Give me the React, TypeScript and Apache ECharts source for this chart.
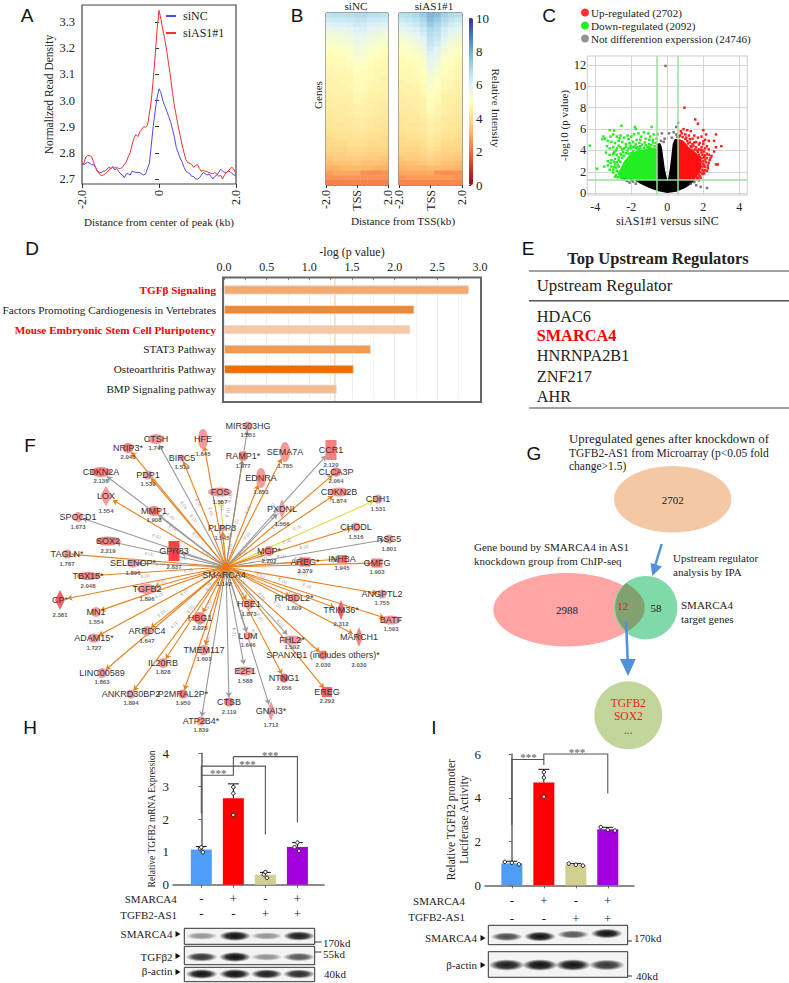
import React, { useEffect, useRef } from "react";
import * as echarts from "echarts";

const SERIF = "Liberation Serif";
const SANS = "Liberation Sans";
const INK = "#222";

// Panel A
const peakX = Array.from({ length: 81 }, (_, i) => (i - 40) / 20);
const siNC = [2.76,2.755,2.76,2.765,2.76,2.755,2.755,2.745,2.73,2.725,2.725,2.73,2.73,2.738,2.745,2.74,2.745,2.735,2.74,2.73,
2.72,2.715,2.705,2.72,2.72,2.715,2.73,2.728,2.725,2.725,2.725,2.72,2.715,2.72,2.74,2.76,2.83,2.90,2.96,3.01,
3.045,3.03,3.0,2.98,2.96,2.94,2.92,2.89,2.86,2.82,2.80,2.78,2.765,2.745,2.73,2.725,2.72,2.71,2.71,2.70,
2.70,2.705,2.715,2.725,2.72,2.715,2.72,2.71,2.70,2.71,2.715,2.725,2.738,2.73,2.725,2.725,2.73,2.728,2.72,2.715,2.715];
const siAS1 = [2.755,2.76,2.785,2.79,2.79,2.785,2.765,2.745,2.73,2.72,2.713,2.715,2.72,2.726,2.735,2.74,2.748,2.742,2.745,2.74,
2.74,2.745,2.755,2.765,2.785,2.80,2.83,2.855,2.87,2.862,2.88,2.89,2.90,2.898,2.905,2.95,3.0,3.08,3.17,3.27,
3.345,3.31,3.27,3.235,3.19,3.14,3.09,3.03,2.98,2.94,2.90,2.865,2.83,2.80,2.775,2.762,2.76,2.755,2.745,2.752,
2.755,2.74,2.73,2.733,2.73,2.728,2.725,2.722,2.72,2.725,2.72,2.71,2.715,2.70,2.715,2.725,2.73,2.74,2.745,2.735,2.72];
const peakTicks = [2.7, 2.8, 2.9, 3.0, 3.1, 3.2, 3.3];

// Panel B
const heatCols = ["c0","c1","c2","c3","c4","c5","c6","c7","c8"];
const heatLeft = [
[6.6,6.7,6.7,6.8,6.9,6.9,6.7,6.7,6.6],[6.3,6.4,6.4,6.5,6.6,6.6,6.4,6.4,6.3],[6.0,6.1,6.1,6.2,6.4,6.3,6.1,6.1,6.0],
[5.7,5.8,5.8,5.9,6.1,6.1,5.9,5.8,5.7],[5.5,5.5,5.6,5.7,5.9,5.9,5.7,5.6,5.5],[5.3,5.4,5.4,5.5,5.7,5.7,5.5,5.4,5.3],
[5.2,5.2,5.3,5.4,5.6,5.6,5.4,5.3,5.2],[5.0,5.1,5.1,5.2,5.5,5.4,5.2,5.1,5.0],[4.9,5.0,5.0,5.1,5.4,5.3,5.1,5.0,4.9],
[4.8,4.9,4.9,5.0,5.3,5.2,5.0,4.9,4.8],[4.8,4.8,4.9,4.9,5.2,5.1,4.9,4.8,4.8],[4.7,4.8,4.8,4.9,5.1,5.0,4.9,4.8,4.7],
[4.7,4.7,4.7,4.8,5.0,4.9,4.8,4.7,4.7],[4.6,4.7,4.7,4.7,4.9,4.9,4.8,4.7,4.6],[4.6,4.6,4.7,4.7,4.9,4.8,4.7,4.7,4.6],
[4.6,4.6,4.6,4.7,4.8,4.8,4.7,4.6,4.6],[4.5,4.6,4.6,4.6,4.8,4.7,4.6,4.6,4.5],[4.5,4.5,4.5,4.6,4.7,4.7,4.6,4.5,4.5],
[4.4,4.5,4.5,4.5,4.7,4.6,4.5,4.5,4.4],[4.4,4.4,4.4,4.5,4.6,4.6,4.5,4.4,4.4],[4.3,4.4,4.4,4.4,4.6,4.5,4.4,4.4,4.3],
[4.3,4.3,4.3,4.4,4.5,4.5,4.4,4.3,4.3],[4.2,4.3,4.3,4.3,4.4,4.4,4.3,4.3,4.2],[4.2,4.2,4.2,4.3,4.4,4.4,4.3,4.2,4.2],
[4.1,4.2,4.2,4.2,4.3,4.3,4.2,4.2,4.1],[4.0,4.1,4.1,4.1,4.2,4.2,4.1,4.1,4.0],[3.9,4.0,4.0,4.0,4.1,4.1,4.0,4.0,3.9],
[3.9,3.9,3.9,4.0,4.0,4.0,3.9,3.9,3.9],[3.8,3.8,3.8,3.9,3.9,3.9,3.8,3.8,3.8],[3.7,3.7,3.7,3.8,3.8,3.8,3.7,3.7,3.7],
[3.5,3.6,3.6,3.6,3.7,3.6,3.6,3.6,3.5],[3.3,3.4,3.4,3.4,3.5,3.4,3.4,3.4,3.3],[3.1,3.1,3.2,3.2,3.2,3.2,3.2,3.1,3.1],
[2.8,2.9,2.9,2.9,2.9,2.6,2.5,2.5,2.6],[2.6,2.6,2.6,2.6,2.6,2.6,2.6,2.6,2.6],[2.3,2.3,2.3,2.3,2.3,2.3,2.3,2.3,2.3]];
const heatRight = [
[6.7,6.8,7.0,7.3,7.8,7.6,7.2,6.9,6.8],[6.4,6.5,6.7,7.0,7.6,7.3,6.9,6.6,6.4],[6.1,6.2,6.4,6.7,7.3,7.0,6.6,6.3,6.1],
[5.8,5.9,6.1,6.4,7.0,6.8,6.3,6.0,5.8],[5.6,5.7,5.9,6.2,6.8,6.6,6.1,5.8,5.6],[5.4,5.5,5.6,6.0,6.6,6.4,5.9,5.6,5.4],
[5.2,5.3,5.4,5.8,6.5,6.2,5.7,5.4,5.3],[5.1,5.2,5.3,5.6,6.3,6.0,5.5,5.3,5.1],[5.0,5.1,5.2,5.4,6.1,5.9,5.4,5.2,5.0],
[4.9,5.0,5.0,5.3,6.0,5.7,5.2,5.1,4.9],[4.8,4.9,4.9,5.2,5.8,5.6,5.1,5.0,4.8],[4.8,4.8,4.9,5.1,5.6,5.4,5.0,4.9,4.8],
[4.7,4.8,4.8,5.0,5.5,5.3,5.0,4.8,4.7],[4.7,4.7,4.8,4.9,5.4,5.2,4.9,4.8,4.7],[4.6,4.7,4.7,4.9,5.3,5.1,4.8,4.7,4.6],
[4.6,4.6,4.7,4.8,5.2,5.0,4.8,4.7,4.6],[4.5,4.6,4.6,4.8,5.1,4.9,4.7,4.6,4.5],[4.5,4.5,4.6,4.7,5.0,4.9,4.6,4.5,4.5],
[4.4,4.5,4.5,4.6,4.9,4.8,4.6,4.5,4.4],[4.4,4.4,4.5,4.6,4.9,4.7,4.5,4.4,4.4],[4.3,4.4,4.4,4.5,4.8,4.6,4.5,4.4,4.3],
[4.3,4.3,4.3,4.5,4.7,4.6,4.4,4.3,4.3],[4.2,4.3,4.3,4.4,4.6,4.5,4.3,4.3,4.2],[4.2,4.2,4.2,4.3,4.5,4.4,4.3,4.2,4.2],
[4.1,4.2,4.2,4.3,4.5,4.4,4.2,4.2,4.1],[4.0,4.1,4.1,4.2,4.4,4.3,4.1,4.1,4.0],[3.9,4.0,4.0,4.1,4.3,4.2,4.0,4.0,3.9],
[3.9,3.9,3.9,4.0,4.2,4.1,3.9,3.9,3.9],[3.8,3.8,3.8,3.9,4.1,4.0,3.8,3.8,3.8],[3.7,3.7,3.7,3.8,3.9,3.8,3.7,3.7,3.7],
[3.5,3.6,3.6,3.7,3.8,3.7,3.6,3.6,3.5],[3.3,3.4,3.4,3.5,3.6,3.5,3.4,3.4,3.3],[3.1,3.2,3.2,3.2,3.3,3.3,3.2,3.2,3.1],
[2.9,2.9,2.9,2.9,3.0,2.6,2.5,2.5,2.6],[2.6,2.7,2.7,2.7,2.7,2.7,2.7,2.7,2.6],[2.4,2.4,2.4,2.4,2.4,2.4,2.4,2.4,2.4]];
const rdYlBu = ["#a50026","#d73027","#f46d43","#fdae61","#fee090","#ffffbf","#e0f3f8","#abd9e9","#74add1","#4575b4","#313695"];

// Panel C
const volcanoXTicks = [-4, -2, 0, 2, 4];
const volcanoYTicks = [0, 2, 4, 6, 8, 10, 12];
const volcanoCuts = { fcDown: -0.585, fcUp: 0.585, p: 1.3 };
const coreGreen = [[-0.585,1.3],[-2.6,1.3],[-2.75,1.8],[-2.55,2.5],[-2.4,3.0],[-2.1,3.6],[-1.7,4.0],[-1.3,4.1],[-0.9,4.3],[-0.585,4.2]];
const coreRed = [[0.62,1.3],[1.5,1.3],[1.8,2.0],[1.9,2.4],[1.9,3.2],[1.6,3.8],[1.2,4.3],[0.9,4.9],[0.62,5.1]];
const coreBlack = [[-1.9,1.3],[-1.5,0.9],[-1.0,0.5],[-0.5,0.2],[0,0.03],[0.5,0.15],[1.0,0.5],[1.3,0.85],[1.6,1.3],[0.62,1.3],[0.62,5.0],[0.42,5.1],[0.3,4.6],[0.15,2.4],[0.02,1.1],[-0.13,2.2],[-0.3,4.3],[-0.4,4.7],[-0.585,4.6],[-0.585,1.3]];
const upPoints = [[0.95,8.0],[1.55,6.9],[1.7,6.5],[0.9,6.0],[1.1,5.9],[1.3,5.8],[1.5,5.4],[2.0,5.9],[2.15,5.5],[2.7,5.5],[2.6,4.9],[3.0,4.4],[2.7,4.3],[2.6,3.9],[2.3,3.6],[2.45,3.5],[2.7,2.7],[2.8,2.7],[0.8,5.6],[0.7,5.4],[1.0,5.5],[1.2,5.4],[1.4,5.1],[1.7,5.2],[1.9,5.3],[2.1,5.0],[2.3,4.9],[1.6,4.8],[1.8,4.7],[2.0,4.6],[2.2,4.4],[1.4,4.6],[1.1,4.9],[1.3,4.4],[1.6,4.3],[1.9,4.3],[2.1,4.2],[2.3,4.1],[2.05,3.9],[2.2,3.7],[1.9,3.8],[2.05,3.4],[2.2,3.3],[2.35,3.1],[2.0,3.0],[2.15,2.9],[2.25,2.6],[2.05,2.6],[1.95,2.2],[2.1,2.15],[1.95,1.8],[1.8,1.6],[1.7,1.45],[2.2,2.1],[2.4,3.3],[1.75,3.6],[1.45,4.0],[0.75,5.8],[1.25,5.05],[1.0,5.1],[1.85,2.9],[1.95,3.3],
[0.65,5.3],[0.85,5.25],[1.05,5.2],[1.15,4.65],[1.25,4.75],[1.35,4.3],[1.45,4.45],[1.55,4.1],[1.65,4.0],[1.75,4.1],[1.85,4.05],[1.95,4.0],[1.7,3.85],[1.8,3.4],[1.95,3.6],[2.1,3.55],[2.1,3.15],[2.0,2.75],[2.1,2.45],[1.95,2.5],[2.0,2.05],[1.85,1.95],[1.75,1.75],[1.6,1.55],[1.65,1.35],[1.85,1.45],[2.05,1.85],[2.25,2.35],[2.3,2.85],[1.5,4.75],[1.75,4.55],[2.0,4.85]];
const downPoints = [[-4.3,4.45],[-3.9,2.3],[-3.55,5.3],[-3.45,5.1],[-3.6,5.05],[-3.2,5.9],[-2.95,5.85],[-2.55,6.3],[-1.8,6.2],[-1.75,6.0],[-0.87,6.2],[-3.0,5.5],[-2.8,5.3],[-2.6,5.4],[-2.4,5.2],[-2.2,5.4],[-2.0,5.3],[-1.85,5.5],[-1.6,5.6],[-1.3,5.7],[-1.05,5.6],[-0.75,5.5],[-3.3,4.9],[-3.1,4.8],[-2.9,4.7],[-2.7,4.9],[-2.5,4.8],[-2.3,4.6],[-2.1,4.7],[-1.9,4.8],[-1.7,5.0],[-1.5,5.0],[-1.2,5.1],[-1.0,5.0],[-0.8,5.0],[-0.65,4.7],[-3.0,4.3],[-2.8,4.2],[-2.6,4.3],[-2.4,4.2],[-2.2,4.0],[-2.0,4.2],[-1.8,4.4],[-1.5,4.4],[-1.2,4.5],[-0.9,4.5],[-3.4,3.8],[-3.2,3.6],[-3.0,3.7],[-2.8,3.6],[-2.6,3.7],[-2.4,3.5],[-3.3,3.0],[-3.1,3.1],[-2.9,3.2],[-2.7,3.1],[-2.5,3.3],[-3.5,2.5],[-3.3,2.6],[-3.1,2.5],[-2.9,2.7],[-2.7,2.5],[-3.0,2.2],[-2.8,2.1],[-2.7,1.9],[-2.6,1.6],[-2.45,1.5],[-2.15,3.7],[-1.9,3.9],[-1.6,4.1],
[-0.7,4.4],[-0.8,4.75],[-1.0,4.6],[-1.1,4.35],[-1.25,4.75],[-1.4,4.55],[-1.55,4.7],[-1.65,4.3],[-1.75,4.6],[-1.9,4.3],[-2.05,4.45],[-2.15,4.2],[-2.3,4.35],[-2.5,4.1],[-2.7,4.45],[-2.85,4.0],[-2.95,3.85],[-2.3,3.75],[-2.45,3.85],[-2.55,3.55],[-2.7,3.35],[-2.6,2.95],[-2.8,2.9],[-2.95,2.95],[-2.75,2.65],[-2.85,2.4],[-2.95,2.45],[-3.15,2.85],[-3.0,1.95],[-2.85,1.7],[-2.75,1.5],[-2.9,1.55],[-3.2,2.2],[-2.0,3.75],[-1.75,4.2],[-1.5,4.2],[-1.3,4.25],[-1.0,4.3],[-3.2,4.2],[-3.35,4.4],[-1.45,5.3],[-2.15,5.05],[-2.65,5.15],[-3.15,5.3],[-0.95,5.3],[-0.6,5.1]];
const otherPoints = [[-0.1,11.9],[0.6,6.6],[0.5,6.2],[0.35,5.7],[0.5,5.5],[0.55,5.3],[0.1,5.6],[-0.3,5.6],[-0.55,5.5],[-0.15,5.1],[-0.35,4.9],[-0.2,4.8],[0.25,5.2],[1.3,0.9],[1.6,0.75],[1.85,0.6],[2.2,0.5],[-1.9,1.1],[-2.4,1.3],[-2.1,1.0],[-2.0,1.25],[-2.25,1.15],[1.5,1.05],[1.75,1.2],[-1.75,0.9]];

// Panel D
const pathways = ["TGFβ Signaling","Factors Promoting Cardiogenesis in Vertebrates","Mouse Embryonic Stem Cell Pluripotency","STAT3 Pathway","Osteoarthritis Pathway","BMP Signaling pathway"];
const pathwayValues = [2.87, 2.23, 2.18, 1.72, 1.52, 1.32];
const pathwayColors = ["#F4A970","#EE8A33","#F6C9A4","#F09A52","#EC6F05","#F6BB8C"];
const pathwayHighlighted = ["TGFβ Signaling","Mouse Embryonic Stem Cell Pluripotency"];
const pathwayThreshold = 1.3;

// Panel E
const regulators = ["HDAC6","SMARCA4","HNRNPA2B1","ZNF217","AHR"];

// Panel F
const hub = "SMARCA4";
const netNames = ["CTSH","NRIP3*","HFE","BIRC5","CDKN2A","PDP1","LOX","FOS","MMP1","SPOCD1","PLPP3","SOX2","GPR83","TAGLN*","SELENOP*","TBX15*","TGFB2","CP*","MN1","ARRDC4","HBG1","ADAM15*","TMEM117","IL20RB","LINC00589","ANKRD30BP2","P2MRAL2P*","CTSB","ATP2B4*","MIR503HG","RAMP1*","SEMA7A","CCR1","EDNRA","CLCA3P","CDKN2B","CDH1","PXDNL","CHODL","RSG5","MGP*","AREG*","INHBA","GMFG","ANGPTL2","RHBDL2*","TRIM36*","BATF","HBE1","MARCH1","LUM","FHL2*","SPANXB1 (includes others)*","E2F1","NTNG1","EREG","GNAI3*"];
const netScores = ["1.747","2.048","1.845","1.519","2.136","1.539","1.554","1.557","1.908","1.673","1.545","2.219","2.837","1.787","1.896","2.048","1.896","2.381","1.554","1.647","2.025","1.727","1.603","1.828","1.863","1.894","1.950","2.119","1.839","1.551","1.977","1.785","2.120","1.853","2.064","1.874","1.531","1.566","1.516","1.801","2.202","2.379","1.945","1.903","1.755","1.609","2.312","1.593","1.873","2.030","1.646","1.592","2.030","1.588","2.656","2.292","1.712"];
// link colour class: o orange, g grey, y yellow, b brown
const netLinkKinds = "g o o o g o o y g g o g g o b o o o o o o o o o o o o g g g b o g o o o y g o g o g o o o o o o o o g g o g o o g".split(" ");
const netEvidence = "E (1)";
// x, y, shape, w, h, score y
const netLayout: any[] = [
[156,439,"c",16,10,448],[128,448,"c",11,10,457],[203,439,"c",10,20,454],[182,458,"c",7,7,467],[101,472,"c",20,10,481],[148,475,"c",9,9,484],[106,496,"d",12,20,511],[220,492,"c",24,9,502],[154,511,"c",12,10,520],[78,517,"c",10,10,527],[222,528,"c",8,7,538],[108,541,"c",24,9,551],[174,551,"r",11,20,567],[67,554,"c",9,9,564],[133,563,"c",10,9,573],[88,576,"c",22,8,586],[147,589,"c",20,10,599],[60,600,"d",10,20,615],[96,612,"c",10,10,622],[147,631,"c",10,10,641],[200,618,"c",13,12,628],[94,638,"c",12,9,648],[204,650,"c",11,10,659],[163,663,"c",10,10,672],[102,673,"c",10,10,682],[131,694,"c",9,9,703],[183,694,"c",9,9,703],[229,702,"c",10,9,712],[201,721,"c",9,9,730],
[248,426,"c",9,9,435],[243,456,"r",7,9,466],[285,452,"c",10,20,466],[331,450,"r",11,20,465],[261,478,"c",10,20,492],[336,472,"c",10,9,481],[339,492,"c",20,9,501],[378,499,"c",9,9,509],[282,509,"d",8,20,524],[356,527,"c",9,9,537],[389,539,"c",9,9,549],[269,551,"c",10,10,561],[305,562,"r",11,9,571],[342,559,"r",10,8,568],[377,563,"r",11,9,572],
[382,594,"c",9,9,603],[294,598,"c",10,9,608],[341,610,"d",8,20,624],[391,620,"c",20,9,629],[249,604,"c",10,10,614],[359,637,"d",8,20,665],[248,636,"c",8,8,645],[292,640,"c",20,9,647],[323,655,"c",9,9,665],[245,671,"c",18,9,681],[284,678,"c",9,9,688],[327,692,"r",10,10,701],[271,711,"d",8,20,725]];

// Panel G
const vennCounts = { microarray: "2702", chip: "2988", shared: "12", target: "58" };
const vennGenes = ["TGFB2", "SOX2", "..."];

// Panels H, I
const smarcaRow = ["-", "+", "-", "+"];
const tgfbRow = ["-", "-", "+", "+"];
const barColors = ["#4F9DF5", "#FF0000", "#D2D090", "#A400DC"];
const mrnaMeans = [1.07, 2.63, 0.3, 1.15];
const mrnaTops = [1.16, 3.07, 0.375, 1.28];
const mrnaPoints = [[-0.04,1.10],[0,1.137],[0.05,0.985],[1,2.97],[1,2.78],[1,2.12],[1.95,0.31],[2,0.386],[2.05,0.21],[3,1.28],[2.91,1.14],[3.05,1.03]];
const mrnaBrackets = [[[0,2.17],[0,3.61],[2,3.61],[2,1.53]],[[0,3.33],[1,3.33],[1,3.9]],[[1,3.9],[3,3.9],[3,1.89]]];
const mrnaStars = [[0.53,3.39],[1.44,3.68],[2.15,3.96]];
const lucMeans = [1.0, 4.7, 0.94, 2.56];
const lucTops = [1.1, 5.3, 0.99, 2.65];
const lucPoints = [[-0.22,1.07],[0,1.03],[0.22,0.96],[1,5.17],[1,4.92],[1,4.05],[1.78,0.99],[2,0.94],[2.22,0.9],[2.78,2.66],[3,2.54],[3.22,2.5]];
const lucBrackets = [[[0,2.75],[0,5.75],[1,5.75],[1,5.5]],[[1,5.75],[1,6],[3,6],[3,4.2]]];
const lucStars = [[0.52,5.87],[2.04,6.1]];
const blotH = { smarca4: [0.4,1,0.4,0.9], tgfb2: [0.8,1,0.4,0.65], actin: [0.95,1,0.9,0.85] };
const blotI = { smarca4: [0.7,1,0.65,0.95], actin: [0.9,0.95,0.95,0.8] };

const txt = (text: string, x: number, y: number, o: any = {}) => ({
  type: "text", x, y, rotation: o.rotation || 0, z: o.z || 20, scaleX: o.scaleX || 1,
  style: {
    text, fill: o.fill || INK, fontFamily: o.family || SERIF, fontSize: o.size || 11, fontWeight: o.weight || "normal",
    align: o.align || "left", textAlign: o.align || "left", verticalAlign: "middle", textVerticalAlign: "middle",
  },
});
const line = (x1: number, y1: number, x2: number, y2: number, color = "#333", w = 1) => ({
  type: "line", z: 20, shape: { x1, y1, x2, y2 }, style: { stroke: color, lineWidth: w },
});
const tri = (x: number, y: number) => ({ type: "polygon", z: 20, shape: { points: [[x - 2.5, y - 3], [x + 2.5, y], [x - 2.5, y + 3]] }, style: { fill: "#111" } });

function band(cx: number, cy: number, rx: number, ry: number, k: number) {
  const c = (a: number) => `rgba(15,15,15,${a})`;
  return {
    type: "ellipse", z: 19, shape: { cx, cy, rx, ry },
    style: { fill: { type: "radial", x: 0.5, y: 0.5, r: 0.5, colorStops: [{ offset: 0, color: c(k) }, { offset: 0.55, color: c(k * 0.85) }, { offset: 1, color: c(0) }] } },
  };
}
function blot(x: number, y: number, w: number, h: number, xs: number[], cy: number[] | number, vals: number[], rx: number, ry: number) {
  const out: any[] = [{ type: "rect", z: 18, shape: { x, y, width: w, height: h }, style: { fill: "#f3f3f3", stroke: "#333", lineWidth: 1 } }];
  vals.forEach((v, i) => out.push(band(xs[i], Array.isArray(cy) ? cy[i] : cy, rx, ry * (0.55 + 0.45 * v), Math.min(1, v * 1.05))));
  return out;
}

const lensPath = "M626 583.3 A31.7 31.7 0 0 0 626.7 631.7 A74 36.7 0 0 0 626 583.3 Z";

function buildGraphic() {
  const els: any[] = [];
  const labels: [string, number, number][] = [["A",27,15],["B",297,15],["C",549,15],["D",32,248],["E",528,248],["F",30,445],["G",534,453],["H",30,727],["I",434,727]];
  labels.forEach(([s, x, y]) => els.push(txt(s, x, y, { family: SANS, size: 19, align: "center", fill: "#111" })));

  // B
  els.push(txt("siNC", 356, 6, { align: "center", size: 11.2 }), txt("siAS1#1", 434, 6, { align: "center", size: 11.2 }));
  els.push(txt("Genes", 318, 95, { align: "center", rotation: Math.PI / 2, size: 11.2 }));
  els.push(txt("Relative Intensity", 496, 108, { align: "center", rotation: -Math.PI / 2, size: 11.2 }));
  els.push(txt("Distance from TSS(kb)", 403, 221, { align: "center", size: 11.2 }));

  // D frame
  els.push({ type: "rect", z: 15, shape: { x: 223, y: 277.5, width: 258, height: 124.5 }, style: { fill: "none", stroke: "#666", lineWidth: 2 } });

  // E
  els.push(txt("Top Upstream Regulators", 658, 258, { align: "center", weight: "bold", size: 16.5 }));
  els.push(line(529, 271, 789, 271, "#444", 1.2), line(529, 300.7, 789, 300.7, "#555", 1.4), line(529, 408, 789, 408, "#444", 1.2));
  els.push(txt("Upstream Regulator", 536.7, 285.7, { size: 16.8 }));
  const rowY = [316, 335.5, 355.5, 376, 396];
  regulators.forEach((r, i) => els.push(txt(r, 536.7, rowY[i], r === "SMARCA4" ? { size: 16.3, weight: "bold", fill: "#FF0000" } : { size: 16.3 })));

  // G
  els.push(txt("Upregulated genes after knockdown of", 569, 439, { size: 11.5, scaleX: 1.12 }));
  els.push(txt("TGFB2-AS1 from Microarray (p<0.05 fold", 569, 453, { size: 11.5 }));
  els.push(txt("change>1.5)", 569, 466, { size: 11.5 }));
  els.push({ type: "ellipse", z: 10, shape: { cx: 672.7, cy: 499.3, rx: 58.7, ry: 33.3 }, style: { fill: "#F5C8A5" } });
  els.push(txt(vennCounts.microarray, 672.7, 500, { align: "center" }));
  els.push(txt("Gene bound by SMARCA4 in AS1", 474, 547), txt("knockdown group from ChIP-seq", 474, 561));
  els.push(txt("Upstream regulator", 673, 558), txt("analysis by IPA", 673, 572));
  els.push({ type: "ellipse", z: 10, shape: { cx: 567.3, cy: 609.7, rx: 74, ry: 36.7 }, style: { fill: "#FFA5A5" } });
  els.push({ type: "circle", z: 11, shape: { cx: 645.7, cy: 607.7, r: 31.7 }, style: { fill: "#7FD9A8" } });
  els.push({ type: "vennLens", z: 12, style: { fill: "#82A070" } });
  els.push(txt(vennCounts.chip, 567, 610, { align: "center" }), txt(vennCounts.shared, 622.7, 606, { align: "center", fill: "#E02020" }), txt(vennCounts.target, 656, 608, { align: "center" }));
  els.push(txt("SMARCA4", 681, 605), txt("target genes", 681, 619));
  els.push(line(661.7, 544, 655, 566, "#5090DC", 2.5));
  els.push({ type: "polygon", z: 20, shape: { points: [[650.5, 563], [662, 566.5], [652.3, 576]] }, style: { fill: "#5090DC" } });
  els.push(line(626, 621, 627.7, 660, "#5090DC", 2.5));
  els.push({ type: "polygon", z: 20, shape: { points: [[620, 659], [635.7, 659], [628, 676]] }, style: { fill: "#5090DC" } });
  els.push({ type: "circle", z: 10, shape: { cx: 628.3, cy: 715.3, r: 34 }, style: { fill: "#C2D69B" } });
  vennGenes.forEach((g, i) => els.push(txt(g, 628.3, [702.7, 716, 730][i], { align: "center", size: 11.5, fill: "#F02020" })));

  // H labels + blots
  els.push(txt("SMARCA4", 176.7, 899, { align: "right" }), txt("TGFB2-AS1", 177, 915, { align: "right" }));
  const hx = [201.7, 235, 266.7, 299];
  els.push(...blot(184.3, 928.3, 130.4, 16, hx, 936, blotH.smarca4, 16, 5));
  els.push(...blot(184.3, 946.3, 130.4, 18.4, hx, 957, blotH.tgfb2, 16, 5));
  els.push(...blot(184.3, 967.3, 130.4, 14.4, hx, 974, blotH.actin, 16, 5));
  els.push(txt("SMARCA4", 172.5, 934, { align: "right" }), tri(178, 934));
  els.push(txt("TGFβ2", 172.5, 957, { align: "right" }), tri(178, 956));
  els.push(txt("β-actin", 172.5, 971, { align: "right" }), tri(178, 972));
  els.push(line(315, 942, 321.5, 942, "#333", 1), line(315, 952, 321.5, 952, "#333", 1));
  els.push(txt("170kd", 323, 943), txt("55kd", 323, 954), txt("40kd", 324, 974));

  // I labels + blots
  els.push(txt("SMARCA4", 465, 901, { align: "right" }), txt("TGFB2-AS1", 465, 917, { align: "right" }));
  const ix = [506.7, 540, 573, 606.7];
  els.push(...blot(488.3, 925.3, 139.4, 19.4, ix, [936.7, 936.5, 934.5, 933.5], blotI.smarca4, 16, 5));
  els.push(...blot(488.3, 951.7, 139.4, 25.6, ix, 965, blotI.actin, 18, 6));
  els.push(txt("SMARCA4", 477, 938, { align: "right" }), tri(483, 938));
  els.push(txt("β-actin", 477, 965, { align: "right" }), tri(483, 965));
  els.push(line(627.7, 941, 632, 941, "#333", 1), line(627.7, 976, 632, 976, "#333", 1));
  els.push(txt("170kd", 634, 938), txt("40kd", 636, 976));
  return els;
}

function barPanel(gi: number, means: number[], tops: number[], points: number[][], brackets: number[][][], stars: number[][], name: string) {
  const xa = gi, ya = gi;
  return [
    { type: "bar", xAxisIndex: xa, yAxisIndex: ya, barWidth: 21, silent: true, name,
      data: means.map((v, i) => ({ value: [i, v], itemStyle: { color: barColors[i] } })) },
    { type: "custom", xAxisIndex: xa, yAxisIndex: ya, silent: true, z: 3,
      data: tops.map((t, i) => [i, means[i], t]),
      renderItem: (_: any, api: any) => {
        const a = api.coord([api.value(0), api.value(1)]);
        const b = api.coord([api.value(0), api.value(2)]);
        return { type: "group", children: [
          { type: "line", shape: { x1: a[0], y1: a[1], x2: b[0], y2: b[1] }, style: { stroke: "#111", lineWidth: 1 } },
          { type: "line", shape: { x1: b[0] - 5.5, y1: b[1], x2: b[0] + 5.5, y2: b[1] }, style: { stroke: "#111", lineWidth: 1 } },
        ] };
      } },
    { type: "scatter", xAxisIndex: xa, yAxisIndex: ya, silent: true, z: 4, symbolSize: 3.5, clip: false,
      itemStyle: { color: "#fff", borderColor: "#111", borderWidth: 1, opacity: 1 }, data: points },
    { type: "custom", xAxisIndex: xa, yAxisIndex: ya, silent: true, z: 2, clip: false,
      data: brackets.map((b) => b[0]),
      renderItem: (p: any, api: any) => ({ type: "polyline",
        shape: { points: brackets[p.dataIndex].map((c) => api.coord(c)) },
        style: { stroke: "#555", lineWidth: 1.1, fill: "none" } }) },
    { type: "scatter", xAxisIndex: xa, yAxisIndex: ya, silent: true, z: 5, symbolSize: 0, clip: false, data: stars,
      label: { show: true, position: "inside", formatter: "***", fontFamily: SERIF, fontSize: 11, fontWeight: "bold", color: "#555" } },
  ];
}

function option() {
  const axisText = { fontFamily: SERIF, color: INK };
  const hidden = { show: false };
  const poly = (pts: number[][], fill: string) => (p: any, api: any) =>
    p.dataIndex === 0 ? { type: "polygon", shape: { points: pts.map((c) => api.coord(c)) }, style: { fill } } : null;

  const barX = (gridIndex: number, lo: number, hi: number, lh: number) => ({
    type: "value", gridIndex, min: lo, max: hi, splitLine: hidden,
    axisLine: { show: true, lineStyle: { color: "#666", width: 1.5 } },
    axisTick: { show: true, length: 3, lineStyle: { color: "#666" }, customValues: [0, 1, 2, 3] },
    axisLabel: { customValues: [0, 1, 2, 3], ...axisText, fontSize: 13, lineHeight: lh, margin: 6, formatter: (v: number) => `${smarcaRow[v]}\n${tgfbRow[v]}` },
  });
  const barY = (gridIndex: number, max: number, interval: number, name: string, gap: number, size: number) => ({
    type: "value", gridIndex, min: 0, max, interval, name, nameLocation: "middle", nameRotate: 90, nameGap: gap,
    nameTextStyle: { fontFamily: SERIF, fontSize: size, color: INK, lineHeight: 13 }, splitLine: hidden,
    axisLine: { show: true, lineStyle: { color: "#666", width: 1.5 } },
    axisTick: { show: true, length: 3, lineStyle: { color: "#666" } },
    axisLabel: { ...axisText, fontSize: 13, margin: 4 },
  });
  const heatXCat = (gridIndex: number) => ({ type: "category", gridIndex, data: heatCols, show: false });
  const heatXVal = (gridIndex: number) => ({
    type: "value", gridIndex, min: -2, max: 2, interval: 2, position: "bottom", splitLine: hidden,
    axisLine: hidden, axisTick: { show: true, length: 3, lineStyle: { color: "#333" } },
    axisLabel: { rotate: 90, ...axisText, fontSize: 12, margin: 5, formatter: (v: number) => (v === 0 ? "TSS" : v.toFixed(1)) },
  });
  const heatY = (gridIndex: number) => ({ type: "category", gridIndex, inverse: true, data: heatLeft.map((_, i) => String(i)), show: false });
  const heatData = (t: number[][]) => t.flatMap((row, r) => row.map((v, c) => [c, r, v]));

  const xAxis: any[] = [
    /*0 A*/ { type: "value", gridIndex: 0, min: -2, max: 2, interval: 2, splitLine: hidden, name: "Distance from center of peak (kb)", nameLocation: "middle", nameGap: 32,
      nameTextStyle: { fontFamily: SERIF, fontSize: 11.1, color: INK },
      axisLine: { show: false }, axisTick: { show: true, length: 4, lineStyle: { color: "#333" } },
      axisLabel: { rotate: 90, ...axisText, fontSize: 12, margin: 6, formatter: (v: number) => v === 0 ? "0" : v.toFixed(1) } },
    /*1*/ heatXCat(1), /*2*/ heatXVal(1), /*3*/ heatXCat(2), /*4*/ heatXVal(2),
    /*5 bar*/ { type: "value", gridIndex: 3, show: false, min: 0, max: 1 },
    /*6 C*/ { type: "value", gridIndex: 4, min: -4.44, max: 4.44, splitLine: hidden, name: "siAS1#1 versus siNC", nameLocation: "middle", nameGap: 20,
      nameTextStyle: { fontFamily: SERIF, fontSize: 12, color: INK },
      axisLine: { show: false }, axisTick: { show: false, customValues: volcanoXTicks },
      axisLabel: { customValues: volcanoXTicks, ...axisText, fontSize: 12, margin: 6 } },
    /*7 D*/ { type: "value", gridIndex: 5, position: "top", min: 0, max: 3, interval: 0.5, name: "-log (p value)", nameLocation: "middle", nameGap: 22,
      nameTextStyle: { fontFamily: SERIF, fontSize: 12, color: INK },
      axisLine: { show: false }, axisTick: { show: true, length: 3, lineStyle: { color: "#888" } }, minorTick: { show: true, splitNumber: 2, length: 3, lineStyle: { color: "#888" } },
      splitLine: { show: true, lineStyle: { color: "#eee" } }, minorSplitLine: { show: true, lineStyle: { color: "#f3f3f3" } },
      axisLabel: { ...axisText, fontSize: 12, margin: 7, formatter: (v: number) => v.toFixed(1) } },
    /*8 F*/ { type: "value", gridIndex: 6, min: 0, max: 789, show: false },
    /*9 H*/ barX(7, -0.884, 3.83, 15),
    /*10 I*/ barX(8, -0.84, 3.82, 18),
  ];
  const yAxis: any[] = [
    /*0 A*/ { type: "value", gridIndex: 0, min: 2.681, max: 3.365, splitLine: hidden, name: "Normalized Read Density", nameLocation: "middle", nameRotate: 90, nameGap: 26,
      nameTextStyle: { fontFamily: SERIF, fontSize: 11.5, color: INK },
      axisLine: { show: false }, axisTick: { show: true, length: 4, customValues: peakTicks, lineStyle: { color: "#333" } },
      axisLabel: { customValues: peakTicks, ...axisText, fontSize: 12.5, margin: 7, formatter: (v: number) => v.toFixed(1) } },
    /*1*/ heatY(1), /*2*/ heatY(1), /*3*/ heatY(2), /*4*/ heatY(2),
    /*5 bar*/ { type: "value", gridIndex: 3, position: "right", min: 0, max: 10, interval: 2, splitLine: hidden,
      axisLine: hidden, axisTick: { show: true, length: 2, inside: false, lineStyle: { color: "#333" } }, axisLabel: { ...axisText, fontSize: 13, margin: 3 } },
    /*6 C*/ { type: "value", gridIndex: 4, min: -0.16, max: 12.83, splitLine: hidden, name: "-log10 (p value)", nameLocation: "middle", nameRotate: 90, nameGap: 17,
      nameTextStyle: { fontFamily: SERIF, fontSize: 11, color: INK },
      axisLine: { show: false }, axisTick: { show: true, length: 5, customValues: volcanoYTicks, lineStyle: { color: "#888" } },
      axisLabel: { customValues: volcanoYTicks, ...axisText, fontSize: 12.5, margin: 1 } },
    /*7 D*/ { type: "category", gridIndex: 5, inverse: true, data: pathways, axisLine: hidden, axisTick: hidden,
      axisLabel: { margin: 8, interval: 0, formatter: (v: string) => pathwayHighlighted.includes(v) ? `{r|${v}}` : `{n|${v}}`,
        rich: { r: { fontFamily: SERIF, fontSize: 11.2, fontWeight: "bold", color: "#FF0000" }, n: { fontFamily: SERIF, fontSize: 11.2, color: INK } } } },
    /*8 F*/ { type: "value", gridIndex: 6, min: 0, max: 983, inverse: true, show: false },
    /*9 H*/ barY(7, 4, 1, "Relative TGFB2 mRNA Expression", 10, 9.5),
    /*10 I*/ barY(8, 6, 2, "Relative TGFB2 promoter\nLuciferase Activity", 14, 11.5),
  ];
  const noBounds = { outerBoundsMode: "none" };
  const grid = [
    { left: 82, top: 5, width: 154, height: 179, show: true, borderColor: "#444", borderWidth: 1.2, backgroundColor: "transparent" },
    { left: 326, top: 13, width: 62, height: 172, show: true, borderColor: "#222", borderWidth: 1 },
    { left: 399, top: 13, width: 63, height: 172, show: true, borderColor: "#222", borderWidth: 1 },
    { left: 469, top: 18, width: 4, height: 167 },
    { left: 587.3, top: 56, width: 160, height: 139, show: true, borderColor: "#ccc", borderWidth: 1 },
    { left: 224, top: 280, width: 256, height: 119 },
    { left: 0, top: 0, width: 789, height: 983 },
    { left: 173, top: 753.3, width: 151, height: 131.4 },
    { left: 485, top: 754, width: 149, height: 131.3 },
  ].map((g) => ({ ...g, ...noBounds }));

  const netNodes: any[] = netNames.map((name, i) => {
    const [x, y, s, w, h] = netLayout[i];
    const score = parseFloat(netScores[i]);
    return {
      name, value: [x, y], symbol: s === "c" ? "circle" : s === "r" ? "rect" : "diamond", symbolSize: [w, h],
      itemStyle: { color: score > 2.7 ? "#FF4048" : score > 2.25 ? "#F46464" : score > 1.9 ? "#F58080" : "#F59A9A" },
    };
  });
  netNodes.push({ name: hub, value: [226, 567], symbol: "circle", symbolSize: 8, itemStyle: { color: "#E8791A" }, label: { offset: [-2, 8] } });
  const kindColor: any = { o: "#E8801E", g: "#999", y: "#E6D84A", b: "#A88A66" };
  const netLinks = netNames.map((name, i) => ({ source: hub, target: name, tag: netEvidence, lineStyle: { color: kindColor[netLinkKinds[i]] } }));

  const series: any[] = [
    { type: "line", name: "siNC", xAxisIndex: 0, yAxisIndex: 0, showSymbol: false, silent: true, data: peakX.map((x, i) => [x, siNC[i]]), lineStyle: { color: "#4B4BF0", width: 1 }, itemStyle: { color: "#4B4BF0" } },
    { type: "line", name: "siAS1#1", xAxisIndex: 0, yAxisIndex: 0, showSymbol: false, silent: true, data: peakX.map((x, i) => [x, siAS1[i]]), lineStyle: { color: "#F0322F", width: 1 }, itemStyle: { color: "#F0322F" } },
    { type: "heatmap", xAxisIndex: 1, yAxisIndex: 1, silent: true, data: heatData(heatLeft), itemStyle: { borderWidth: 0 } },
    { type: "heatmap", xAxisIndex: 3, yAxisIndex: 3, silent: true, data: heatData(heatRight), itemStyle: { borderWidth: 0 } },
    // C
    { type: "scatter", name: "Not differention experssion (24746)", xAxisIndex: 6, yAxisIndex: 6, symbol: "rect", symbolSize: 2.5, silent: true, z: 3, data: otherPoints, itemStyle: { color: "#555" },
      markLine: { silent: true, symbol: "none", z: 1, label: hidden, lineStyle: { color: "#d5d5d5", width: 1, type: "solid" },
        data: [...volcanoXTicks.map((v) => ({ xAxis: v })), ...volcanoYTicks.map((v) => ({ yAxis: v }))] } },
    { type: "custom", xAxisIndex: 6, yAxisIndex: 6, silent: true, z: 3, data: coreBlack, renderItem: poly(coreBlack, "#000") },
    { type: "custom", xAxisIndex: 6, yAxisIndex: 6, silent: true, z: 3, data: coreGreen, renderItem: poly(coreGreen, "#22EE22") },
    { type: "custom", xAxisIndex: 6, yAxisIndex: 6, silent: true, z: 3, data: coreRed, renderItem: poly(coreRed, "#FF1010") },
    { type: "scatter", name: "Up-regulated (2702)", xAxisIndex: 6, yAxisIndex: 6, symbol: "rect", symbolSize: 2.5, silent: true, z: 4, data: upPoints, itemStyle: { color: "#FF2020", opacity: 1 } },
    { type: "scatter", name: "Down-regulated (2092)", xAxisIndex: 6, yAxisIndex: 6, symbol: "rect", symbolSize: 2.5, silent: true, z: 4, data: downPoints, itemStyle: { color: "#22EE22", opacity: 1 },
      markLine: { silent: true, symbol: "none", z: 6, label: hidden, lineStyle: { color: "#9EDC9E", width: 1.5, type: "solid" },
        data: [{ xAxis: volcanoCuts.fcDown }, { xAxis: volcanoCuts.fcUp }, { yAxis: volcanoCuts.p }] } },
    // D
    { type: "bar", xAxisIndex: 7, yAxisIndex: 7, barWidth: 9, silent: true,
      data: pathwayValues.map((v, i) => ({ value: v, itemStyle: { color: pathwayColors[i], borderColor: "#ddd", borderWidth: 0.8 } })) },
    { type: "custom", xAxisIndex: 7, yAxisIndex: 7, silent: true, z: 1, data: [[pathwayThreshold, pathways[0]]],
      renderItem: (_: any, api: any) => {
        const x = api.coord([api.value(0), 0])[0];
        return { type: "line", shape: { x1: x, y1: 278, x2: x, y2: 401 }, style: { stroke: "#F6C48E", lineWidth: 1 } };
      } },
    // F
    { type: "graph", coordinateSystem: "cartesian2d", xAxisIndex: 8, yAxisIndex: 8, layout: "none", silent: true, z: 3,
      data: netNodes, links: netLinks, edgeSymbol: ["none", "arrow"], edgeSymbolSize: [0, 5],
      lineStyle: { width: 1.1, opacity: 1, curveness: 0 },
      label: { show: true, position: "inside", fontFamily: SANS, fontSize: 9, color: "#333" },
      edgeLabel: { show: true, fontFamily: SANS, fontSize: 4, color: "#888", formatter: (p: any) => p.data?.tag ?? "" } },
    { type: "scatter", xAxisIndex: 8, yAxisIndex: 8, symbolSize: 0, silent: true, z: 4,
      data: [...netNames.map((_, i) => ({ value: [netLayout[i][0], netLayout[i][5]], score: netScores[i] })), { value: [224, 584], score: "1.142" }],
      label: { show: true, position: "inside", fontFamily: SANS, fontSize: 6, fontWeight: "bold", color: "#333", formatter: (p: any) => p.data.score } },
    // H, I
    ...barPanel(9, mrnaMeans, mrnaTops, mrnaPoints, mrnaBrackets, mrnaStars, "mRNA"),
    ...barPanel(10, lucMeans, lucTops, lucPoints, lucBrackets, lucStars, "Luciferase"),
  ];

  return {
    animation: false,
    backgroundColor: "#fff",
    grid, xAxis, yAxis, series,
    legend: [
      { left: 166, top: 10, orient: "vertical", itemWidth: 10, itemHeight: 2, itemGap: 5, selectedMode: false, padding: 0,
        icon: "rect", data: ["siNC", "siAS1#1"], textStyle: { fontFamily: SERIF, fontSize: 12, color: INK, padding: [0, 0, 0, 2] } },
      { left: 581, top: 7, orient: "vertical", itemWidth: 8, itemHeight: 8, itemGap: 2, selectedMode: false, padding: 0, icon: "circle",
        data: [{ name: "Up-regulated (2702)", itemStyle: { color: "#FF3030" } }, { name: "Down-regulated (2092)", itemStyle: { color: "#22EE22" } }, { name: "Not differention experssion (24746)", itemStyle: { color: "#777" } }],
        textStyle: { fontFamily: SERIF, fontSize: 11.1, color: INK, padding: [0, 0, 0, -3] } },
    ],
    visualMap: { type: "continuous", seriesIndex: [2, 3], dimension: 2, min: 0, max: 10, calculable: false, realtime: false, show: true, left: 469, top: 18, padding: 0, itemWidth: 4, itemHeight: 167, text: ["", ""], inRange: { color: rdYlBu } },
    graphic: { elements: buildGraphic() },
  };
}

export default function App() {
  const ref = useRef<HTMLDivElement>(null);
  useEffect(() => {
    document.body.style.margin = "0";
    echarts.graphic.registerShape("vennLens", echarts.graphic.extendPath(lensPath, {}));
    const chart = echarts.init(ref.current!, undefined, { renderer: "svg" });
    chart.setOption(option() as any);
    return () => chart.dispose();
  }, []);
  return <div ref={ref} style={{ width: 789, height: 983 }} />;
}
